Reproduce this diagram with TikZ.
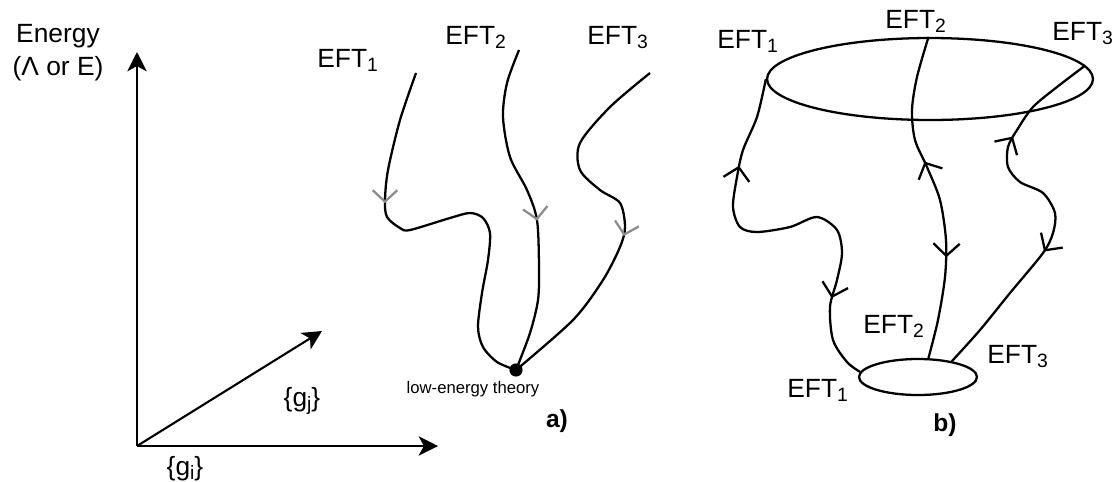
\documentclass[tikz,border=0pt]{standalone}
\usepackage{fontspec}
\setmainfont{Liberation Sans}
\usetikzlibrary{arrows.meta,shapes.geometric,decorations.markings}

\newcommand{\idx}[1]{\raisebox{-0.3ex}{\fontsize{11}{13}\selectfont #1}}

\tikzset{
  barb/.tip={Straight Barb[length=7pt,width=15pt]},
  graybarb/.tip={Straight Barb[length=6.5pt,width=14pt,color=black!45]},
  axis/.style={line width=1.2pt, -{Stealth[length=11pt,width=11pt,inset=3pt]}},
  flow/.style={line width=1.3pt},
  down/.style={postaction={decorate, decoration={markings, mark=at position #1 with {\arrow{barb}}}}},
  up/.style={postaction={decorate, decoration={markings, mark=at position #1 with {\arrowreversed{barb}}}}},
  faint/.style={postaction={decorate, decoration={markings, mark=at position #1 with {\arrow{graybarb}}}}},
  lbl/.style={font=\fontsize{15}{18}\selectfont, inner sep=0pt, anchor=base west},
  tag/.style={font=\fontsize{14}{17}\selectfont\bfseries, inner sep=0pt, anchor=base},
}

\begin{document}
\begin{tikzpicture}[x=0.02cm, y=-0.02cm]
    \useasboundingbox (0,0) rectangle (1120,481);

    % axes
    \coordinate (o) at (137,446);
    \coordinate (etip) at (137,52);
    \coordinate (itip) at (438,446);
    \coordinate (jtip) at (322,331);
    \draw[axis] (o) -- (etip);
    \draw[axis] (o) -- (itip);
    \draw[axis] (o) -- (jtip);
    \node[lbl, anchor=base] (energy) at (58,42) {Energy};
    \node[lbl, anchor=base] (lambda) at (58,75) {(Λ or E)};
    \node[lbl, anchor=base] (gj) at (302,406) {\{g\idx{j}\}};
    \node[lbl, anchor=base] (gi) at (185,475) {\{g\idx{i}\}};

    % a) flows into one low-energy theory
    \node[circle, fill, inner sep=0pt, minimum size=7.5pt] (low) at (516,370) {};
    \node[font=\fontsize{9.5}{11}\selectfont, inner sep=0pt, anchor=base] (lowlbl) at (473,393) {low-energy theory};
    \node[lbl] (a1) at (317,67) {EFT\idx{1}};
    \node[lbl] (a2) at (445,44) {EFT\idx{2}};
    \node[lbl] (a3) at (587,44) {EFT\idx{3}};
    \draw[flow, faint=0.315] plot[smooth] coordinates {(416,73) (400,120) (388,170) (385,200) (387,217)
      (400,228) (410,230) (450,218) (470,213) (483,218) (490,233) (488,260) (482,293) (478,327)
      (483,347) (497,362) (low)};
    \draw[flow, faint=0.54] plot[smooth] coordinates {(519,50) (507,83) (503,117) (510,157) (527,190)
      (537,220) (539,267) (538,300) (530,333) (low)};
    \draw[flow, faint=0.55] plot[smooth] coordinates {(650,73) (610,107) (580,143) (580,170) (600,190)
      (620,203) (625,227) (620,247) (603,280) (573,320) (low)};
    \node[tag] (atag) at (557,427) {a)};

    % b) flows between two surfaces
    \node[draw, ellipse, line width=1.3pt, inner sep=0pt, minimum width=6.52cm, minimum height=1.64cm] (uv) at (930,79) {};
    \node[draw, ellipse, line width=1.3pt, inner sep=0pt, minimum width=2.36cm, minimum height=0.72cm] (ir) at (918,377) {};
    \node[lbl] (b1) at (717,48) {EFT\idx{1}};
    \node[lbl] (b2) at (885,28) {EFT\idx{2}};
    \node[lbl] (b3) at (1052,40) {EFT\idx{3}};
    \node[lbl] (c1) at (787,397) {EFT\idx{1}};
    \node[lbl] (c2) at (863,333) {EFT\idx{2}};
    \node[lbl] (c3) at (987,363) {EFT\idx{3}};
    \draw[flow, up=0.22, down=0.795] plot[smooth] coordinates {(uv.west) (757,117) (743,150) (737,177)
      (733,207) (740,227) (757,232) (790,227) (817,217) (837,230) (842,253) (837,280) (830,307)
      (833,340) (847,362) (ir.175)};
    \draw[flow, up=0.39, down=0.69] plot[smooth] coordinates {(uv.92) (917,77) (912,110) (915,140)
      (927,167) (940,200) (946,240) (945,277) (938,320) (ir.61)};
    \draw[flow, up=0.265, down=0.63] plot[smooth] coordinates {(uv.5) (1057,87) (1033,107) (1017,130)
      (1008,147) (1008,167) (1020,182) (1043,193) (1055,213) (1053,233) (1043,253) (1010,293)
      (980,330) (ir.25)};
    \node[tag] (btag) at (945,431) {b)};
\end{tikzpicture}
\end{document}
